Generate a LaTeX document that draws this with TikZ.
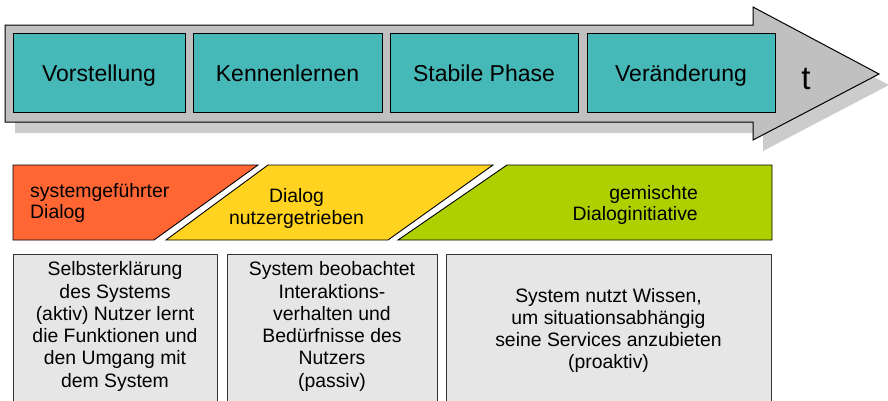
\documentclass[tikz,border=0pt]{standalone}
\usepackage{fontspec}
\setmainfont{Liberation Sans}
\definecolor{arrowgray}{HTML}{C0C0C0}
\definecolor{shadowgray}{HTML}{CCCCCC}
\definecolor{tealbox}{HTML}{47B8B8}
\definecolor{redpar}{HTML}{FF6633}
\definecolor{yellowpar}{HTML}{FFD320}
\definecolor{greenpar}{HTML}{AECF00}
\definecolor{graybox}{HTML}{E6E6E6}
\tikzset{
  phasebox/.style={draw=black, line width=1pt, fill=tealbox},
  phasetext/.style={font=\fontsize{23}{26}\selectfont, inner sep=0pt, anchor=base},
  partext/.style={font=\fontsize{19.4}{21.5}\selectfont, inner sep=0pt},
  descbox/.style={draw=black!80, line width=0.9pt, fill=graybox},
  desctext/.style={font=\fontsize{19.4}{22.3}\selectfont, align=center, inner sep=0pt},
}
\begin{document}
\begin{tikzpicture}[x=1pt,y=-1pt]
\useasboundingbox (0,0) rectangle (888,400);
% arrow shadow
\fill[shadowgray] (15,36) -- (763,36) -- (763,18) -- (889,85) -- (763,151) -- (763,133) -- (15,133) -- cycle;
% arrow
\draw[fill=arrowgray, line width=1pt, line join=miter] (5,25) -- (753,25) -- (753,7) -- (879,74) -- (753,140) -- (753,122) -- (5,122) -- cycle;
% phase boxes
\draw[phasebox] (13,33) rectangle (185,112);
\draw[phasebox] (193,33) rectangle (382,112);
\draw[phasebox] (390,33) rectangle (578,112);
\draw[phasebox] (587,33) rectangle (775,112);
\node[phasetext] (p1) at (99,81.5) {Vorstellung};
\node[phasetext] (p2) at (287.5,81.5) {Kennenlernen};
\node[phasetext] (p3) at (484,81.5) {Stabile Phase};
\node[phasetext] (p4) at (681,81.5) {Veränderung};
\node[font=\fontsize{33}{36}\selectfont, inner sep=0pt, anchor=base] (t) at (806,89) {t};
% parallelograms
\draw[fill=redpar, line width=0.9pt, line join=miter] (13,165) -- (258,165) -- (154,240) -- (13,240) -- cycle;
\draw[fill=yellowpar, line width=0.9pt, line join=miter] (268,165) -- (493,165) -- (388,240) -- (166,240) -- cycle;
\draw[fill=greenpar, line width=0.9pt, line join=miter] (507,165) -- (772,165) -- (772,240) -- (398,240) -- cycle;
\node[partext, anchor=west, align=left] (d1) at (30,203) {systemgeführter\\Dialog};
\node[partext, align=center] (d2) at (296.5,208.5) {Dialog\\nutzergetrieben};
\node[partext, anchor=east, align=right] (d3) at (698,205) {gemischte\\Dialoginitiative};
% description boxes
\draw[descbox] (13,254) rectangle (217,404);
\draw[descbox] (227,254) rectangle (437,404);
\draw[descbox] (446,254) rectangle (771,404);
\node[desctext] (e1) at (115,326.5) {Selbsterklärung\\des Systems\\(aktiv) Nutzer lernt\\die Funktionen und\\den Umgang mit\\dem System};
\node[desctext] (e2) at (332,326.5) {System beobachtet\\Interaktions-\\verhalten und\\Bedürfnisse des\\Nutzers\\(passiv)};
\node[desctext] (e3) at (608.5,330.5) {System nutzt Wissen,\\um situationsabhängig\\seine Services anzubieten\\(proaktiv)};
\end{tikzpicture}
\end{document}
